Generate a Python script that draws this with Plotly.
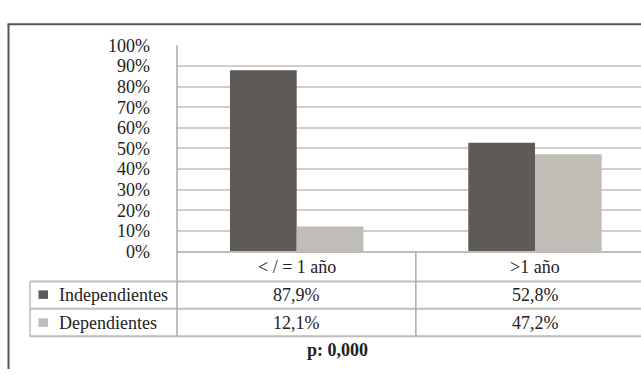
import plotly.graph_objects as go

# Data
categories = ["< / = 1 año", ">1 año"]
series_names = ["Independientes", "Dependientes"]
independientes = [87.9, 52.8]
dependientes = [12.1, 47.2]
series_values = [independientes, dependientes]
series_colors = ["#5e5a56", "#c0bdb7"]
y_ticks = [0, 10, 20, 30, 40, 50, 60, 70, 80, 90, 100]
y_tick_labels = [f"{v}%" for v in y_ticks]
p_label = "p: 0,000"

W, H = 641, 379
FONT = "Liberation Serif"
FS = 18
TXT = "#222222"


def X(px):
    return px / W


def Y(py):
    return 1 - py / H


def fmt(v):
    return f"{v:.1f}".replace(".", ",") + "%"


fig = go.Figure()
for name, vals, col in zip(series_names, series_values, series_colors):
    fig.add_trace(go.Bar(x=categories, y=vals, name=name, marker_color=col,
                         marker_line_width=0, showlegend=False))

# geometry of the plot area and data table (pixels)
plot_left, plot_top, plot_bottom = 177, 37.3, 255
row_lines = [255.5, 286.5, 315.5, 344.5]
table_left = 30
cat_row_center = 271
row_centers = [300.5, 330]

shapes = []
line_col = "#bdbdbd"
# horizontal table rules
shapes.append(dict(type="line", xref="paper", yref="paper", x0=X(plot_left), x1=1,
                   y0=Y(row_lines[0]), y1=Y(row_lines[0]), line=dict(color=line_col, width=2)))
for py in row_lines[1:]:
    shapes.append(dict(type="line", xref="paper", yref="paper", x0=X(table_left), x1=1,
                       y0=Y(py), y1=Y(py), line=dict(color=line_col, width=2)))
# vertical table rules
shapes.append(dict(type="line", xref="paper", yref="paper", x0=X(table_left), x1=X(table_left),
                   y0=Y(row_lines[1]), y1=Y(row_lines[3]), line=dict(color=line_col, width=1.5)))
shapes.append(dict(type="line", xref="paper", yref="paper", x0=X(plot_left), x1=X(plot_left),
                   y0=Y(plot_top), y1=Y(row_lines[3]), line=dict(color="#aaaaaa", width=1.5)))
shapes.append(dict(type="line", xref="x", yref="paper", x0=0.5, x1=0.5,
                   y0=Y(row_lines[0]), y1=Y(row_lines[3]), line=dict(color="#aaaaaa", width=1.5)))
# outer frame
shapes.append(dict(type="line", xref="paper", yref="paper", x0=X(8.5), x1=X(8.5),
                   y0=Y(15), y1=0, line=dict(color="#555555", width=2)))
shapes.append(dict(type="line", xref="paper", yref="paper", x0=X(7.5), x1=1,
                   y0=Y(15), y1=Y(15), line=dict(color="#555555", width=2)))
# legend swatches
for col, cy in zip(series_colors, row_centers):
    shapes.append(dict(type="rect", xref="paper", yref="paper", x0=X(38.5), x1=X(48),
                       y0=Y(cy + 4.5), y1=Y(cy - 4.5), fillcolor=col, line_width=0))

font = dict(family=FONT, size=FS, color=TXT)
annotations = []
for cat in categories:
    annotations.append(dict(x=cat, y=Y(cat_row_center), xref="x", yref="paper", text=cat,
                            xanchor="center", yanchor="middle", showarrow=False, font=font))
for name, vals, cy in zip(series_names, series_values, row_centers):
    annotations.append(dict(x=X(57), y=Y(cy), xref="paper", yref="paper", text=name,
                            xanchor="left", yanchor="middle", showarrow=False, font=font))
    for cat, v in zip(categories, vals):
        annotations.append(dict(x=cat, y=Y(cy), xref="x", yref="paper", text=fmt(v),
                                xanchor="center", yanchor="middle", showarrow=False, font=font))
annotations.append(dict(x=X(337), y=Y(359), xref="paper", yref="paper", text=f"<b>{p_label}</b>",
                        xanchor="center", yanchor="middle", showarrow=False, font=font))

unit = 238.3
c0 = 296.7
fig.update_layout(
    width=W, height=H,
    margin=dict(l=0, r=0, t=0, b=0),
    paper_bgcolor="white", plot_bgcolor="white",
    barmode="group", bargap=0.44, bargroupgap=0,
    shapes=shapes, annotations=annotations,
    xaxis=dict(domain=[X(plot_left), 1], range=[-(c0 - plot_left) / unit, (W - c0) / unit],
               showticklabels=False, showgrid=False, zeroline=False, showline=False,
               fixedrange=True),
    yaxis=dict(domain=[Y(plot_bottom), Y(plot_top)], range=[0, 100], tickvals=y_ticks,
               ticktext=y_tick_labels, showgrid=True, gridcolor="#cfcfcf", gridwidth=2,
               zeroline=False, showline=False, ticks="", ticklabelstandoff=26,
               tickfont=font, fixedrange=True),
)

fig.write_html("out.html")
